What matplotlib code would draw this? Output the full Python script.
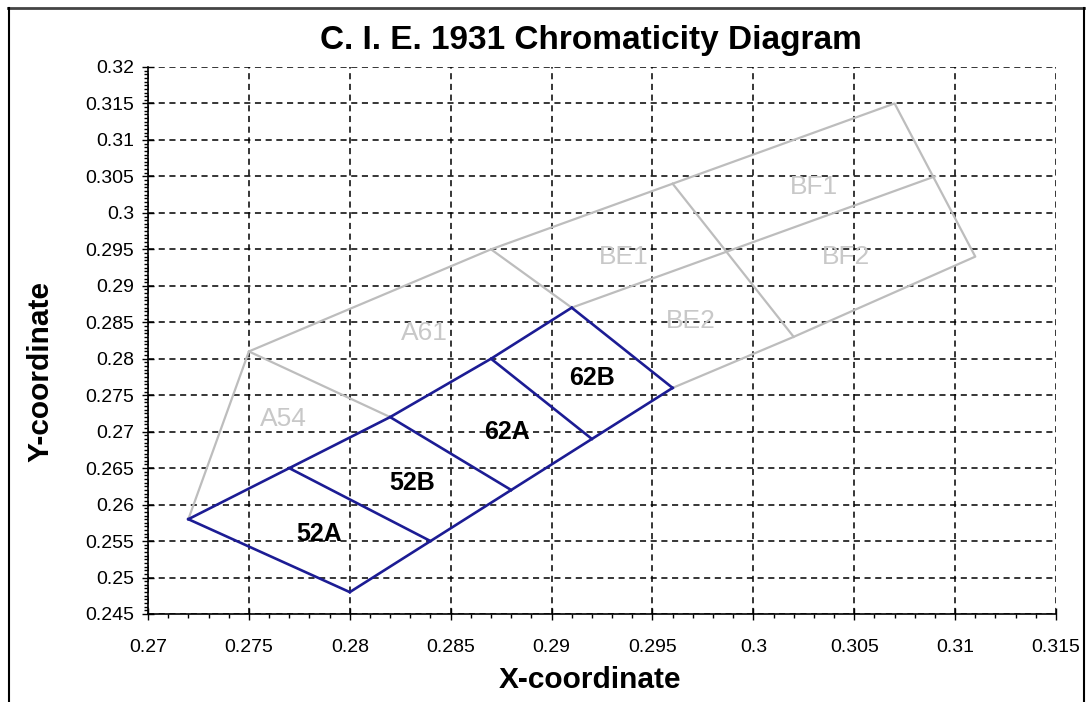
import matplotlib
matplotlib.use("Agg")
import matplotlib.pyplot as plt
from matplotlib.lines import Line2D
from matplotlib.ticker import MultipleLocator

plt.rcParams['font.family'] = ['Liberation Sans', 'DejaVu Sans']

# ---- data ----
title = "C. I. E. 1931 Chromaticity Diagram"
x_label = "X-coordinate"
y_label = "Y-coordinate"

# blue bins: upper and lower edge vertices
blue_top_x = [0.272, 0.277, 0.282, 0.287, 0.291]
blue_top_y = [0.258, 0.265, 0.272, 0.280, 0.287]
blue_bot_x = [0.280, 0.284, 0.288, 0.292, 0.296]
blue_bot_y = [0.248, 0.255, 0.262, 0.269, 0.276]

# gray bins: outline and inner dividers
gray_outline_x = [0.272, 0.275, 0.287, 0.296, 0.307, 0.311, 0.302, 0.296]
gray_outline_y = [0.258, 0.281, 0.295, 0.304, 0.315, 0.294, 0.283, 0.276]
gray_inner_x = [[0.275, 0.282], [0.287, 0.291], [0.291, 0.309], [0.296, 0.302]]
gray_inner_y = [[0.281, 0.272], [0.295, 0.287], [0.287, 0.305], [0.304, 0.283]]

gray_names = ["BF1", "BE1", "BF2", "BE2", "A61", "A54"]
gray_lx = [0.3030, 0.2936, 0.3046, 0.2969, 0.2837, 0.2767]
gray_ly = [0.3035, 0.2940, 0.2940, 0.2852, 0.2835, 0.2717]

blue_names = ["62B", "62A", "52B", "52A"]
blue_lx = [0.2920, 0.2878, 0.2831, 0.2785]
blue_ly = [0.2774, 0.2700, 0.2630, 0.2560]

x_ticks = [0.27, 0.275, 0.28, 0.285, 0.29, 0.295, 0.3, 0.305, 0.31, 0.315]
y_ticks = [0.245, 0.25, 0.255, 0.26, 0.265, 0.27, 0.275, 0.28, 0.285, 0.29,
           0.295, 0.3, 0.305, 0.31, 0.315, 0.32]

# ---- figure ----
W, H = 1087, 702
fig = plt.figure(figsize=(W / 100, H / 100), dpi=100)
ax = fig.add_axes([148 / W, 1 - 614 / H, (1056 - 148) / W, (614 - 67) / H])

BLUE = '#1c1c94'
GRAY = '#bdbdbd'

# gray lines
ax.plot(gray_outline_x, gray_outline_y, color=GRAY, lw=1.6, zorder=3)
for gx, gy in zip(gray_inner_x, gray_inner_y):
    ax.plot(gx, gy, color=GRAY, lw=1.6, zorder=3)

# blue bins
ax.plot(blue_top_x, blue_top_y, color=BLUE, lw=1.9, zorder=4)
ax.plot(blue_bot_x, blue_bot_y, color=BLUE, lw=1.9, zorder=4)
for i in range(len(blue_top_x)):
    ax.plot([blue_top_x[i], blue_bot_x[i]], [blue_top_y[i], blue_bot_y[i]],
            color=BLUE, lw=1.9, zorder=4)

for n, lx, ly in zip(gray_names, gray_lx, gray_ly):
    ax.text(lx, ly, n, color='#c8c8c8', fontsize=19, ha='center', va='center', zorder=5)
for n, lx, ly in zip(blue_names, blue_lx, blue_ly):
    ax.text(lx, ly, n, color='black', fontsize=18, fontweight='bold',
            ha='center', va='center', zorder=5)

ax.set_xlim(x_ticks[0], x_ticks[-1])
ax.set_ylim(y_ticks[0], y_ticks[-1])
ax.set_xticks(x_ticks)
ax.set_yticks(y_ticks)
ax.set_xticklabels([f"{v:g}" for v in x_ticks])
ax.set_yticklabels([f"{v:g}" for v in y_ticks])
ax.xaxis.set_minor_locator(MultipleLocator(0.001))
ax.yaxis.set_minor_locator(MultipleLocator(0.0005))
ax.tick_params(which='major', direction='inout', length=8, width=1, labelsize=14,
               colors='black', pad=6)
ax.tick_params(which='minor', direction='out', length=3, width=1)
ax.tick_params(axis='x', pad=14)

ax.grid(True, which='major', color='black', linestyle=(0, (4, 3)), lw=1.1, zorder=1)
ax.set_axisbelow(True)
for s in ['top', 'right']:
    ax.spines[s].set_visible(False)
for s in ['left', 'bottom']:
    ax.spines[s].set_linewidth(1.2)

ax.set_xlabel(x_label, fontsize=21.5, fontweight='bold', va='center')
ax.set_ylabel(y_label, fontsize=21.5, fontweight='bold', va='center')
ax.xaxis.set_label_coords((590 - 148) / 908, (614 - 680) / 547)
ax.yaxis.set_label_coords((40 - 148) / 908, (614 - 372) / 547)
fig.text(591 / W, 1 - 41 / H, title, fontsize=24, fontweight='bold',
         ha='center', va='center')

# outer frame
fig.add_artist(Line2D([8, 1084], [H - 8, H - 8], transform=None, color='#444444', lw=2))
fig.add_artist(Line2D([9, 9], [0, H - 8], transform=None, color='black', lw=1.5))
fig.add_artist(Line2D([1084, 1084], [0, H - 8], transform=None, color='black', lw=1.5))

fig.savefig("out.png", dpi=100)
